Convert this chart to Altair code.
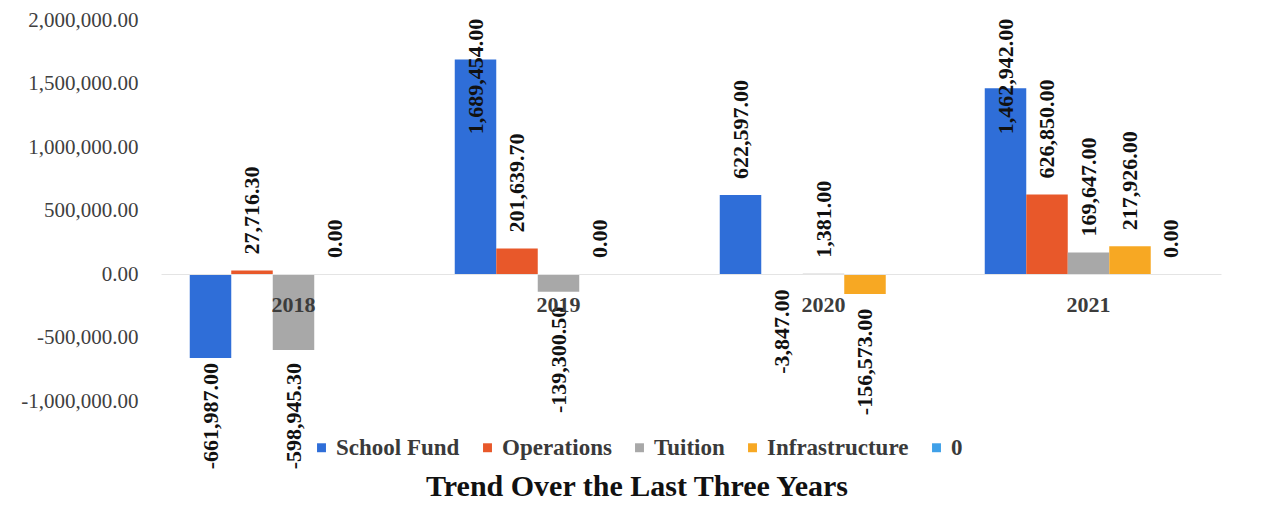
import altair as alt
import pandas as pd

years = ["2018", "2019", "2020", "2021"]
series = ["School Fund", "Operations", "Tuition", "Infrastructure", "0"]
school_fund = [-661987.00, 1689454.00, 622597.00, 1462942.00]
operations = [27716.30, 201639.70, -3847.00, 626850.00]
tuition = [-598945.30, -139300.50, 1381.00, 169647.00]
infrastructure = [0.00, 0.00, -156573.00, 217926.00]
zero_series = [None, None, None, 0.00]
colors = ["#2f6ed8", "#e8582a", "#a8a8a8", "#f7a823", "#3fa0e8"]
y_ticks = [-1000000, -500000, 0, 500000, 1000000, 1500000, 2000000]

rows = []
for name, vals in zip(series, [school_fund, operations, tuition, infrastructure, zero_series]):
    for yr, v in zip(years, vals):
        if v is not None:
            rows.append({"year": yr, "series": name, "value": v})
df = pd.DataFrame(rows)

SERIF = "Liberation Serif"
MINUS_FIX = "replace(format(datum.value, ',.2f'), '\u2212', '-')"

x_enc = alt.X(
    "year:N", sort=years, title=None,
    scale=alt.Scale(paddingInner=0.217, paddingOuter=0.1085),
    axis=alt.Axis(orient="bottom", offset=-127, labelAngle=0, ticks=False,
                  domainColor="#e4e4e4", domainWidth=1, labelPadding=20,
                  labelFont=SERIF, labelFontSize=22, labelFontWeight="bold",
                  labelColor="#3c3c3c", grid=False, zindex=2),
)
xo_enc = alt.XOffset("series:N", sort=series,
                     scale=alt.Scale(domain=series, paddingInner=0, paddingOuter=0))

base = alt.Chart(df)

bars = base.mark_bar().encode(
    x=x_enc,
    xOffset=xo_enc,
    y=alt.Y("value:Q", title=None,
            scale=alt.Scale(domain=[-1000000, 2000000], nice=False),
            axis=alt.Axis(values=y_ticks, labelExpr=MINUS_FIX, grid=False,
                          domain=False, ticks=False, labelPadding=23,
                          labelFont=SERIF, labelFontSize=21, labelColor="#404040")),
    color=alt.Color("series:N", sort=series,
                    scale=alt.Scale(domain=series, range=colors),
                    legend=alt.Legend(orient="none", legendX=149, legendY=416,
                                      direction="horizontal", title=None,
                                      labelFont=SERIF, labelFontSize=23,
                                      labelFontWeight="bold", labelColor="#3a3a3a",
                                      symbolType="square", symbolSize=80,
                                      symbolStrokeWidth=0, columnPadding=16,
                                      labelOffset=3, padding=0)),
)

text_style = dict(angle=270, baseline="middle", font=SERIF, fontSize=22,
                  fontWeight="bold", color="#111111")

pos_labels = base.transform_filter("datum.value >= 0").transform_calculate(
    lp="min(datum.value + 126000, 1100000)", lbl=MINUS_FIX
).mark_text(align="left", **text_style).encode(
    x=alt.X("year:N", sort=years),
    xOffset=alt.XOffset("series:N", sort=series),
    y=alt.Y("lp:Q"),
    text="lbl:N",
)

neg_labels = base.transform_filter("datum.value < 0").transform_calculate(
    lp="max(datum.value - 118000, -700000)", lbl=MINUS_FIX
).mark_text(align="right", **text_style).encode(
    x=alt.X("year:N", sort=years),
    xOffset=alt.XOffset("series:N", sort=series),
    y=alt.Y("lp:Q"),
    text="lbl:N",
)

chart = alt.layer(bars, pos_labels, neg_labels).properties(
    width=1060, height=381,
    autosize=alt.AutoSizeParams(type="none"),
    padding={"left": 153, "top": 12, "right": 43, "bottom": 104},
    title=alt.Title("Trend Over the Last Three Years", orient="bottom",
                    anchor="middle", font=SERIF, fontSize=30, fontWeight="bold",
                    color="#111111", dx=-54, offset=3),
).configure_view(stroke=None)

chart.save("out.html", embed_options={"renderer": "svg", "actions": False})
